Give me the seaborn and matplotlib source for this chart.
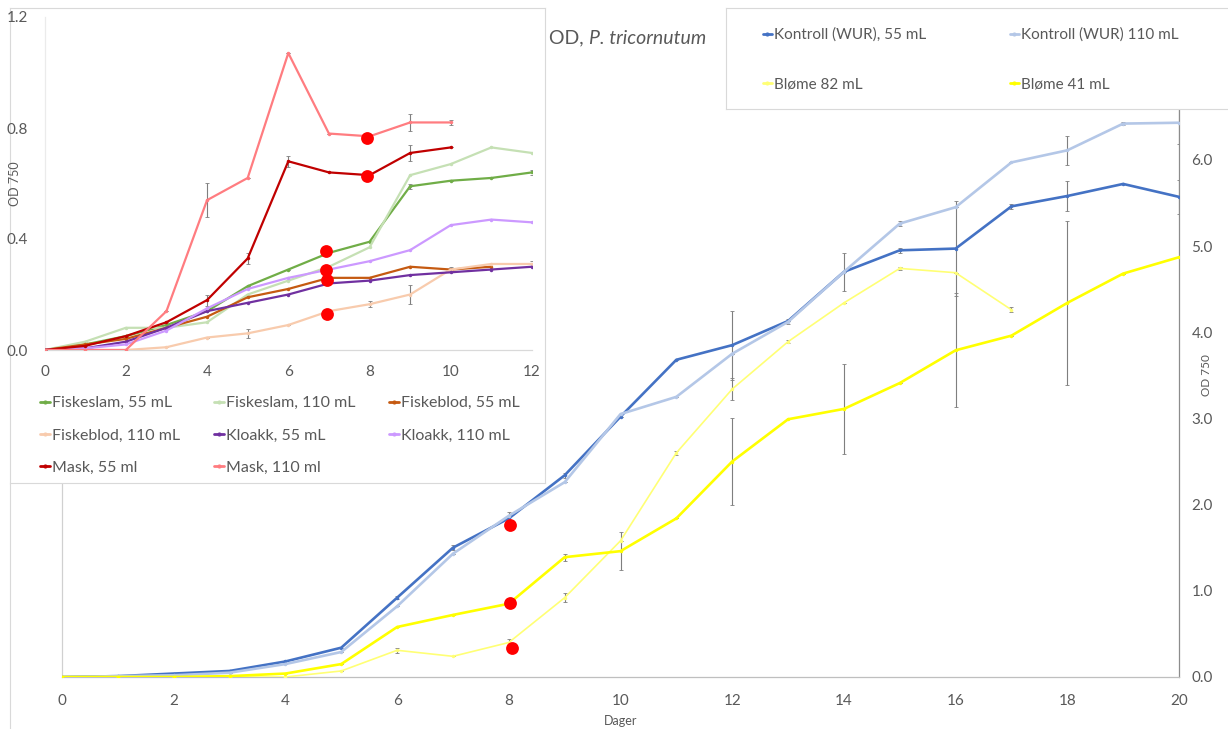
import pandas as pd
import matplotlib
matplotlib.use("Agg")
import matplotlib.pyplot as plt
from matplotlib.lines import Line2D
import seaborn as sns

# ---- main chart data (P. tricornutum) ----
days_main = list(range(21))
kontroll_55 = [0, 0.01, 0.04, 0.07, 0.18, 0.34, 0.92, 1.50, 1.84, 2.34, 3.02,
               3.68, 3.85, 4.13, 4.70, 4.95, 4.97, 5.46, 5.58, 5.72, 5.57]
kontroll_110 = [0, 0.01, 0.02, 0.05, 0.15, 0.29, 0.82, 1.43, 1.87, 2.26, 3.05,
                3.25, 3.75, 4.12, 4.70, 5.26, 5.45, 5.97, 6.11, 6.42, 6.43]
blome_82 = [0, 0, 0, 0, 0, 0.07, 0.31, 0.24, 0.40, 0.92, 1.58,
            2.60, 3.34, 3.89, 4.34, 4.74, 4.69, 4.26]
blome_41 = [0, 0, 0, 0.01, 0.04, 0.15, 0.58, 0.72, 0.85, 1.39, 1.46,
            1.84, 2.50, 2.99, 3.11, 3.41, 3.79, 3.96, 4.34, 4.68, 4.87]

kontroll_55_err = [0, 0, 0, 0, 0, 0, 0.02, 0.03, 0.07, 0.03, 0,
                   0, 0.40, 0, 0.22, 0.03, 0.55, 0.03, 0.17, 0, 0.20]
kontroll_110_err = [0, 0, 0, 0, 0, 0, 0, 0, 0, 0, 0,
                    0, 0, 0.03, 0, 0.03, 0, 0, 0.17, 0.02, 0.25]
blome_82_err = [0, 0, 0, 0, 0, 0, 0.03, 0, 0.04, 0.05, 0,
                0.02, 0.13, 0.02, 0, 0.02, 0, 0.03]
blome_41_err = [0, 0, 0, 0, 0.01, 0, 0, 0, 0, 0.04, 0.22,
                0, 0.50, 0, 0.52, 0, 0.66, 0, 0.95, 0, 0]

main_red_x = [8.02, 8.03, 8.05]
main_red_y = [1.76, 0.86, 0.34]

# ---- inset chart data ----
days_inset = list(range(13))
fiskeslam_55 = [0, 0.02, 0.05, 0.09, 0.14, 0.23, 0.29, 0.35, 0.39, 0.59, 0.61, 0.62, 0.64]
fiskeslam_110 = [0, 0.03, 0.08, 0.08, 0.10, 0.20, 0.25, 0.30, 0.37, 0.63, 0.67, 0.73, 0.71]
fiskeblod_55 = [0, 0.02, 0.04, 0.08, 0.12, 0.19, 0.22, 0.26, 0.26, 0.30, 0.29, 0.30]
fiskeblod_110 = [0, 0, 0, 0.01, 0.045, 0.06, 0.09, 0.14, 0.165, 0.20, 0.29, 0.31, 0.31]
kloakk_55 = [0, 0.006, 0.03, 0.08, 0.14, 0.17, 0.20, 0.24, 0.25, 0.27, 0.28, 0.29, 0.30]
kloakk_110 = [0, 0.006, 0.02, 0.07, 0.15, 0.22, 0.26, 0.29, 0.32, 0.36, 0.45, 0.47, 0.46]
mask_55 = [0, 0.015, 0.05, 0.10, 0.18, 0.33, 0.68, 0.64, 0.63, 0.71, 0.73]
mask_110 = [0, 0, 0, 0.14, 0.54, 0.62, 1.07, 0.78, 0.77, 0.82, 0.82]

mask_110_err = [0, 0, 0, 0, 0.06, 0, 0, 0, 0, 0.03, 0.01]
mask_55_err = [0, 0, 0, 0, 0.02, 0.02, 0.02, 0, 0, 0.03, 0]
fiskeblod_110_err = [0, 0, 0, 0, 0, 0.015, 0, 0, 0.01, 0.035, 0.01, 0, 0.01]
fiskeslam_55_err = [0, 0.01, 0, 0, 0, 0, 0, 0, 0, 0.01, 0, 0, 0.01]

inset_red_x = [7.94, 7.94, 6.93, 6.93, 6.95, 6.96]
inset_red_y = [0.763, 0.628, 0.358, 0.290, 0.252, 0.129]

main_series = [
    ("Kontroll (WUR), 55 mL", kontroll_55, kontroll_55_err, "#4472C4", 1.9),
    ("Kontroll (WUR) 110 mL", kontroll_110, kontroll_110_err, "#B4C7E7", 1.9),
    ("Bløme 82 mL", blome_82, blome_82_err, "#FFFF75", 1.2),
    ("Bløme 41 mL", blome_41, blome_41_err, "#FFFF00", 1.9),
]
inset_series = [
    ("Fiskeslam, 55 mL", fiskeslam_55, fiskeslam_55_err, "#70AD47"),
    ("Fiskeslam, 110 mL", fiskeslam_110, None, "#C5E0B4"),
    ("Fiskeblod, 55 mL", fiskeblod_55, None, "#C55A11"),
    ("Fiskeblod, 110 mL", fiskeblod_110, fiskeblod_110_err, "#F8CBAD"),
    ("Kloakk, 55 mL", kloakk_55, None, "#7030A0"),
    ("Kloakk, 110 mL", kloakk_110, None, "#CC99FF"),
    ("Mask, 55 ml", mask_55, mask_55_err, "#C00000"),
    ("Mask, 110 ml", mask_110, mask_110_err, "#FF7C80"),
]

sns.set_theme(style="white")
plt.rcParams["font.family"] = ["Lato", "DejaVu Sans"]
TXT = "#595959"

W, H = 1228, 729
fig = plt.figure(figsize=(W / 100, H / 100), dpi=100)


def box(x0, y0, x1, y1):
    """pixel box (top-left origin) -> figure fraction rect"""
    return [x0 / W, 1 - y1 / H, (x1 - x0) / W, (y1 - y0) / H]


# ---- main axes ----
ax = fig.add_axes(box(62, 73.6, 1179, 677))
ax.set_zorder(1)
for name, vals, err, color, lw in main_series:
    d = pd.DataFrame({"day": days_main[:len(vals)], "od": vals, "err": err})
    ax.errorbar(d["day"], d["od"], yerr=d["err"], fmt="none", ecolor="#7F7F7F",
                elinewidth=0.8, capsize=1.2, capthick=0.6, zorder=2)
    sns.lineplot(data=d, x="day", y="od", ax=ax, color=color, linewidth=lw,
                 marker="o", markersize=2.5, markeredgewidth=0, zorder=3)
sns.scatterplot(x=main_red_x, y=main_red_y, ax=ax, color="#FF0000", s=85,
                linewidth=0, zorder=5)

ax.set_xlim(0, 20)
ax.set_ylim(0, 7)
ax.set_xticks(range(0, 21, 2))
ax.set_yticks(range(0, 7))
ax.set_yticklabels([f"{v:.1f}" for v in range(0, 7)])
ax.yaxis.tick_right()
ax.yaxis.set_label_position("right")
ax.tick_params(axis="both", length=0, labelsize=11, labelcolor=TXT)
ax.tick_params(axis="x", pad=12)
ax.tick_params(axis="y", pad=9)
ax.set_xlabel("Dager", fontsize=9, color=TXT)
ax.xaxis.set_label_coords(0.5, -0.063)
ax.set_ylabel("OD 750", fontsize=8.5, color=TXT)
ax.yaxis.set_label_coords(1.0197, 0.5)
ax.spines["top"].set_visible(False)
ax.spines["left"].set_color("#D0D0D0")
ax.spines["bottom"].set_color("#BFBFBF")
ax.spines["right"].set_color("#8C8C8C")
for s in ax.spines.values():
    s.set_linewidth(0.9)

# outer chart frame (left edge visible below inset)
fig.add_artist(Line2D([10 / W, 10 / W], [0, 1 - 483 / H], color="#D9D9D9",
                      lw=0.8, transform=fig.transFigure))

# ---- main legend box ----
ax_leg = fig.add_axes(box(726, 8, 1240, 109))
ax_leg.set_zorder(2)
ax_leg.set_xticks([])
ax_leg.set_yticks([])
for s in ax_leg.spines.values():
    s.set_color("#D9D9D9")
    s.set_linewidth(0.8)
handles = {n: Line2D([0], [0], color=c, lw=2, marker="o", ms=3, mew=0)
           for n, _, _, c, _ in main_series}
order = ["Kontroll (WUR), 55 mL", "Bløme 82 mL", "Kontroll (WUR) 110 mL", "Bløme 41 mL"]
ax_leg.legend([handles[n] for n in order], order, ncol=2, loc="upper left",
              bbox_to_anchor=(0.0445, 0.94), frameon=False, fontsize=11,
              labelcolor=TXT, handlelength=0.6, handletextpad=0.15,
              labelspacing=2.33, columnspacing=5.45)

# title
t1 = fig.text(549 / W, 1 - 38 / H, "OD, ", fontsize=14, color=TXT, va="center")
ax_leg.annotate("P. tricornutum", xy=(1, 0), xycoords=t1, va="bottom",
                fontsize=14, color=TXT, style="italic", annotation_clip=False)

# ---- inset background ----
ax_bg = fig.add_axes(box(10, 8, 545, 483))
ax_bg.set_zorder(2)
ax_bg.set_facecolor("white")
ax_bg.set_xticks([])
ax_bg.set_yticks([])
for s in ax_bg.spines.values():
    s.set_color("#D9D9D9")
    s.set_linewidth(0.8)

# ---- inset axes ----
ax2 = fig.add_axes(box(44.6, 17, 532, 350))
ax2.set_zorder(3)
ax2.patch.set_alpha(0)
for name, vals, err, color in inset_series:
    d = pd.DataFrame({"day": days_inset[:len(vals)], "od": vals})
    if err is not None:
        ax2.errorbar(d["day"], d["od"], yerr=err, fmt="none", ecolor="#7F7F7F",
                     elinewidth=0.8, capsize=1.5, capthick=0.6, zorder=2)
    sns.lineplot(data=d, x="day", y="od", ax=ax2, color=color, linewidth=1.6,
                 marker="o", markersize=2.5, markeredgewidth=0, zorder=3)
sns.scatterplot(x=inset_red_x, y=inset_red_y, ax=ax2, color="#FF0000", s=85,
                linewidth=0, zorder=5)
ax2.set_xlim(0, 12)
ax2.set_ylim(0, 1.2)
ax2.set_xticks(range(0, 13, 2))
ax2.set_yticks([0, 0.4, 0.8, 1.2])
ax2.set_yticklabels(["0.0", "0.4", "0.8", "1.2"])
ax2.tick_params(axis="both", length=0, labelsize=11, labelcolor=TXT)
ax2.tick_params(axis="y", pad=12)
ax2.tick_params(axis="x", pad=11)
ax2.set_xlabel("")
ax2.set_ylabel("OD 750", fontsize=9, color=TXT)
ax2.yaxis.set_label_coords(-0.0484, 0.4985)
ax2.spines["top"].set_visible(False)
ax2.spines["right"].set_visible(False)
ax2.spines["left"].set_color("#EBEBEB")
ax2.spines["bottom"].set_color("#D9D9D9")
for s in ax2.spines.values():
    s.set_linewidth(0.9)

ih = {n: Line2D([0], [0], color=c, lw=2, marker="o", ms=3, mew=0)
      for n, _, _, c in inset_series}
iorder = ["Fiskeslam, 55 mL", "Fiskeblod, 110 mL", "Mask, 55 ml",
          "Fiskeslam, 110 mL", "Kloakk, 55 mL", "Mask, 110 ml",
          "Fiskeblod, 55 mL", "Kloakk, 110 mL"]
ax_bg.legend([ih[n] for n in iorder], iorder, ncol=3, loc="upper left",
             bbox_to_anchor=(0.030, 0.213), frameon=False, fontsize=11.5,
             labelcolor=TXT, handlelength=0.6, handletextpad=0.15,
             labelspacing=1.12, columnspacing=2.1)

fig.savefig("out.png", dpi=100)
